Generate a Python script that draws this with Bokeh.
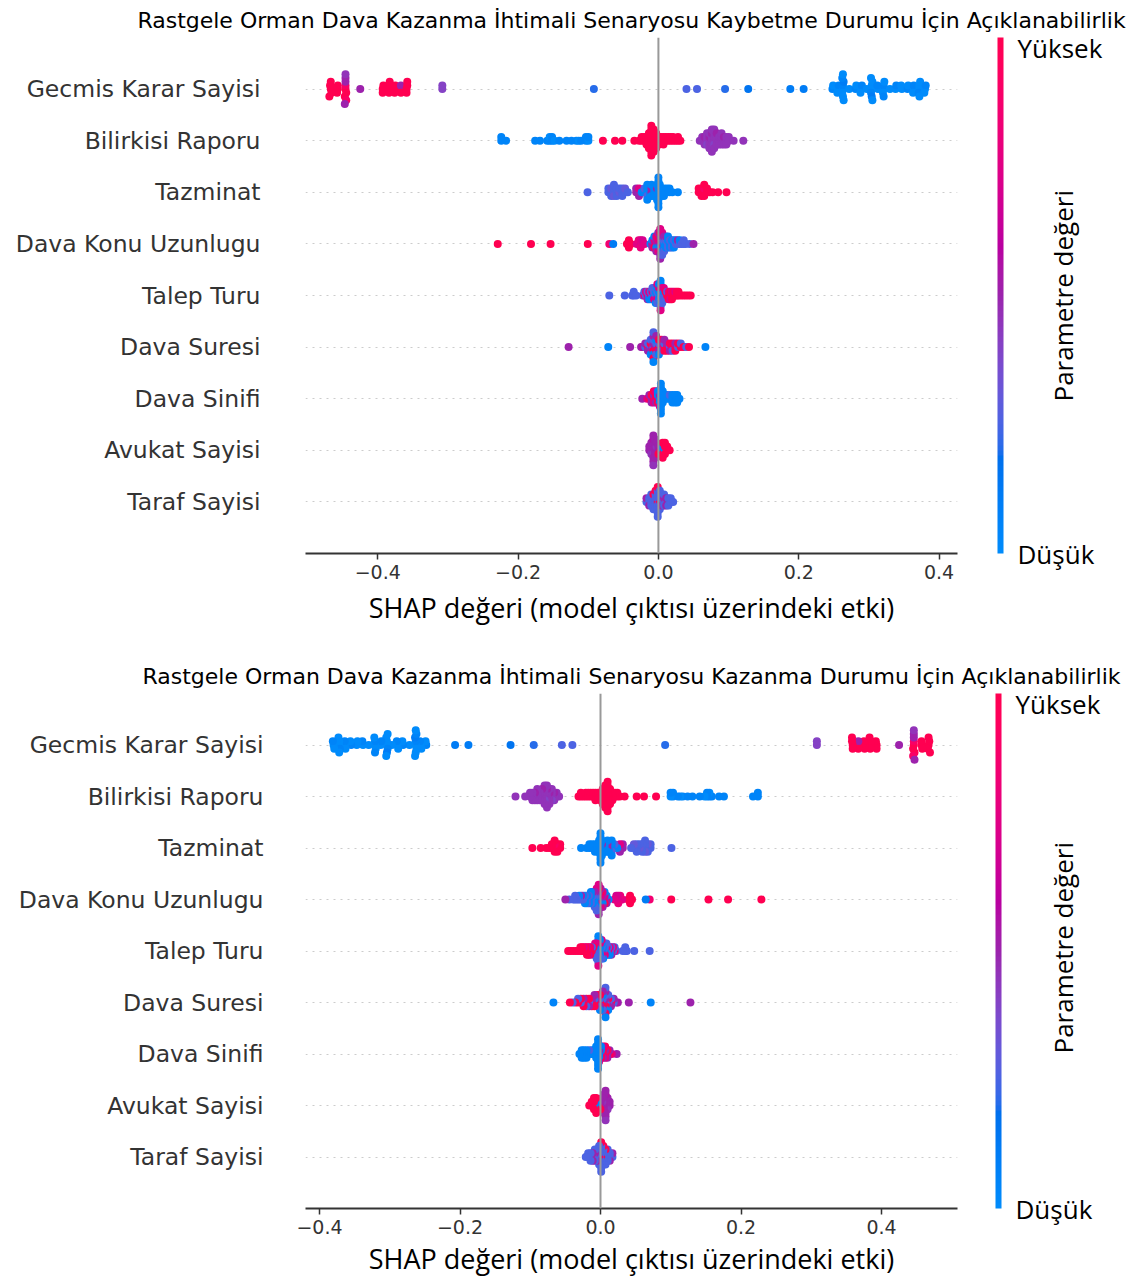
import math
import numpy as np
from bokeh.plotting import figure
from bokeh.models import (Range1d, FixedTicker, Span, ColorBar, LinearColorMapper,
                          LinearAxis, ColumnDataSource)
from bokeh.layouts import column
from bokeh.transform import linear_cmap
from bokeh.embed import file_html
from bokeh.resources import INLINE

# ---------------- texts ----------------
ozellikler = ["Gecmis Karar Sayisi", "Bilirkisi Raporu", "Tazminat", "Dava Konu Uzunlugu",
              "Talep Turu", "Dava Suresi", "Dava Sinifi", "Avukat Sayisi", "Taraf Sayisi"]
baslik_kaybetme = "Rastgele Orman Dava Kazanma İhtimali Senaryosu Kaybetme Durumu İçin Açıklanabilirlik"
baslik_kazanma = "Rastgele Orman Dava Kazanma İhtimali Senaryosu Kazanma Durumu İçin Açıklanabilirlik"
eksen_basligi = "SHAP değeri (model çıktısı üzerindeki etki)"
renk_basligi = "Parametre değeri"
renk_ust = "Yüksek"
renk_alt = "Düşük"
x_tikleri = [-0.4, -0.2, 0.0, 0.2, 0.4]
x_tik_etiketleri = ["−0.4", "−0.2", "0.0", "0.2", "0.4"]

# ---------------- data: feature values (0 = low, 1 = high) ----------------
deger_gecmis = [1.0,1.0,1.0,1.0,1.0, 1.0,1.0,1.0,
 1.0,0.9,1.0,0.5,1.0,0.5,0.9,0.45,0.5, 0.5,
 1.0,1.0,1.0, 1.0,1.0,1.0,1.0, 1.0,1.0,1.0, 1.0,0.5,1.0, 1.0,1.0,1.0,1.0,
 0.4,0.4, 0.2,0.25,0.25,0.2,0.15,0.1,0.1,
 0.05,0.0, 0.0,0.05,0.0, 0.0,0.05,0.0,0.1,0.0,0.05,0.0,0.0,
 0.0,0.05,0.0, 0.0,0.05,0.0, 0.0, 0.0,0.0,0.05,0.0,0.1,0.0,0.0,
 0.0,0.05, 0.0,0.05,0.0,0.0,0.05, 0.0,0.0,0.05,0.0,0.0,0.05,0.0,
 0.0,0.05,0.0, 0.0,0.0,0.05,0.0,0.0, 0.0,0.05,0.0]
deger_bilirkisi = [0.05,0.05,0.05,
 0.05,0.05,0.05,0.05,0.0,0.05,0.05,0.0,0.05,
 0.05,0.05,0.05,0.0,0.05,0.05,0.05,0.0,0.05,
 1.0,1.0,1.0,1.0,
 1.0, 1.0,1.0, 1.0,1.0, 1.0,1.0,1.0, 1.0,1.0,1.0,1.0,1.0,
 1.0,1.0,1.0,1.0,1.0,1.0,1.0,1.0,1.0, 1.0,1.0,1.0,1.0,1.0,1.0,1.0,
 1.0,1.0,1.0,1.0,1.0, 1.0,1.0,1.0, 1.0,1.0, 1.0,1.0,1.0, 1.0,1.0, 1.0,1.0,
 1.0,1.0, 1.0,1.0, 1.0, 1.0,1.0, 1.0,
 0.45, 0.45,0.45, 0.45,0.5,0.45, 0.45,0.45,0.4,0.45, 0.45,0.5,0.45,0.45,0.45,
 0.45,0.45,0.45,0.5,0.45,0.45,0.45, 0.45,0.45,0.4,0.45,0.45,0.45,
 0.45,0.45,0.45,0.5, 0.45,0.45,0.45, 0.45,0.45,0.45,0.45, 0.45,0.5,0.45,
 0.45,0.45,0.45, 0.45,0.45, 0.45, 0.45]
deger_tazminat = [0.25,
 0.25,0.25, 0.25,0.3,0.25, 0.25,0.25,0.3,0.25, 0.25,0.25,0.25, 0.3,0.25, 0.25,0.25,0.25, 0.25,0.3, 0.25,
 0.5,0.5, 0.5,0.75,0.5,
 0.05, 0.05,0.25, 0.05,0.05,0.25,0.05,0.05, 0.05,0.05,0.05, 0.5,0.5,0.05,0.05,
 0.05,0.05,0.05, 0.05,0.05, 0.05,0.5,0.05,0.05,0.05,
 0.05,0.05,0.05,0.05,0.05,0.05,0.05,0.05,0.05, 0.05,0.05,0.05,0.05,
 0.05,0.05,0.05, 0.05,0.05,0.05, 0.05,0.05, 0.05,0.05, 0.05,
 0.05,
 1.0,1.0, 1.0,1.0,1.0, 1.0,0.9,1.0,1.0, 1.0,1.0, 1.0,1.0,1.0,1.0]
deger_dava_konu = [1.0,1.0,1.0,1.0,
 0.85,0.1,
 1.0,1.0,1.0,1.0,1.0,
 0.75,0.75,0.8,0.7,0.75,0.8,0.75,0.7,0.75,
 0.05,
 0.75,0.05,0.5,
 0.5,0.75,1.0,0.05,
 0.75,0.5,0.05,0.75,0.5,
 0.5,0.75,0.05,1.0,0.75,0.5,
 0.5,0.75,0.05,0.5,0.75,1.0,0.5,0.75,0.5,
 0.05,0.25,0.75,0.5,0.05,0.75,0.25,
 0.05,0.25,0.05,0.5,0.25,
 0.05,0.25,0.05,0.5,
 0.25,0.05,0.25,0.05,
 0.05,0.25,0.05,
 0.25,0.05,0.25,
 0.05,0.25,0.05,
 0.25,0.05, 0.25,0.5, 0.25,0.05, 0.25, 0.25,0.25, 0.25,0.25,0.5]
deger_talep = [0.25,0.25,0.25,0.25,0.25,0.25,
 0.25, 0.75,0.25, 0.25,0.75, 0.75,0.25,0.5, 0.25,0.75,0.05, 0.75,0.25,0.05,
 0.25,0.75,0.05,0.25, 0.05,0.25,0.75,0.25, 0.25,0.05,0.75,0.25,0.05,
 0.05,0.25,0.75,0.05,0.25,0.75, 0.25,0.05,0.05,0.75,0.25,0.05,
 0.05,0.05,0.25,0.75,0.05,0.05,0.25,0.05,0.75,
 0.05,0.25,0.05,0.75,0.25, 0.25,0.05,0.25,0.75, 0.25,1.0,0.25, 1.0,0.25,
 1.0,0.75,1.0, 1.0,1.0,0.75, 1.0,0.75,1.0, 1.0,1.0, 1.0,0.75, 1.0,1.0, 1.0,1.0,
 1.0,1.0,1.0,1.0,1.0]
deger_dava_suresi = [0.5,0.05,0.5,0.5,0.55,
 0.25,0.5, 1.0,0.25,0.5, 0.25,1.0,0.5,0.25,0.05,
 0.25,0.5,1.0,0.25,0.05,0.5,1.0,0.25,0.05,
 0.5,0.25,1.0,0.05,0.25,0.5, 1.0,0.25,0.5,1.0,0.05, 1.0,0.5,0.25,1.0, 1.0,0.25,1.0,0.5,
 1.0,0.5,1.0, 0.25,1.0,0.5, 1.0,1.0,0.25, 1.0,0.5,1.0, 0.25,1.0, 1.0,0.25,
 1.0,0.25,1.0, 0.05]
deger_dava_sinifi = [0.5,0.75, 1.0,0.5, 0.5,1.0,0.5, 1.0,0.5,0.75,1.0, 1.0,1.0,0.5,0.75,
 0.75,0.05,1.0,0.05, 0.05,0.5,0.05,0.05,0.75,
 0.05,0.05,0.05,0.05,0.05,0.05,0.05,0.05,0.05, 0.05,0.05,0.05,0.05,
 0.05,0.05, 0.05,0.05, 0.05,0.25, 0.05,0.05,0.05, 0.05,0.05,0.05, 0.05,0.05,0.05, 0.05]
deger_avukat = [0.5,0.5, 0.5,0.5,0.45,0.5,
 0.5,0.5,0.45,0.5,0.5,0.55,0.5,0.5,0.45,
 0.5,0.5,0.5,0.5,0.5,0.5, 0.5,0.45,0.5,0.5, 0.5,0.5,1.0, 1.0,0.5,
 0.05,0.05,1.0,1.0,1.0, 0.05,1.0,1.0,1.0, 1.0,1.0, 1.0]
deger_taraf = [0.25,0.5, 0.25,0.25,0.5, 0.25,0.25,0.25,0.25, 0.25,0.25,0.25,1.0,0.25,
 0.25,0.25,0.25,0.25,0.25,1.0, 1.0,0.25,0.25,0.25,0.25,0.25,0.25,1.0,0.25,
 1.0,0.25,0.25,0.25,0.25,0.25, 0.25,0.25,0.5,0.25, 0.25,0.5,0.25,0.25, 0.25,0.5,0.5,
 0.5,0.25,0.25, 0.25,0.25, 0.25]

# ---------------- data: SHAP values, "Kaybetme" panel ----------------
kaybetme_gecmis = [-0.467,-0.468,-0.466,-0.467,-0.469, -0.457,-0.457,-0.458,
 -0.446,-0.446,-0.445,-0.446,-0.447,-0.446,-0.445,-0.446,-0.447, -0.425,
 -0.393,-0.392,-0.393, -0.384,-0.385,-0.384,-0.383, -0.376,-0.375,-0.376,
 -0.367,-0.367,-0.367, -0.359,-0.358,-0.359,-0.358,
 -0.308,-0.308, -0.092,0.040,0.055,0.095,0.128,0.188,0.207,
 0.248,0.249, 0.256,0.257,0.255, 0.263,0.263,0.262,0.264,0.263,0.262,0.264,0.263,
 0.272,0.281,0.282, 0.289,0.290,0.288, 0.297, 0.304,0.304,0.303,0.305,0.304,0.303,0.305,
 0.313,0.312, 0.321,0.321,0.320,0.322,0.321, 0.330,0.338,0.339,0.347,0.346,0.355,0.356,
 0.364,0.364,0.363, 0.372,0.372,0.371,0.373,0.372, 0.380,0.381,0.379]
kaybetme_bilirkisi = [-0.2240,-0.2240,-0.2171,
 -0.1757,-0.1688,-0.1585,-0.1550,-0.1550,-0.1516,-0.1516,-0.1481,-0.1412,
 -0.1309,-0.1240,-0.1171,-0.1136,-0.1102,-0.1033,-0.1033,-0.0998,-0.0998,
 -0.0791,-0.0619,-0.0515,-0.0343,
 -0.0274, -0.0239,-0.0239, -0.0205,-0.0205, -0.0170,-0.0170,-0.0170,
 -0.0136,-0.0136,-0.0136,-0.0136,-0.0136,
 -0.0101,-0.0101,-0.0101,-0.0101,-0.0101,-0.0101,-0.0101,-0.0101,-0.0101,
 -0.0067,-0.0067,-0.0067,-0.0067,-0.0067,-0.0067,-0.0067,
 -0.0032,-0.0032,-0.0032,-0.0032,-0.0032, 0.0003,0.0003,0.0003, 0.0037,0.0037,
 0.0072,0.0072,0.0072, 0.0106,0.0106, 0.0141,0.0141, 0.0175,0.0175, 0.0210,0.0210,
 0.0244, 0.0279,0.0279, 0.0313,
 0.0589, 0.0624,0.0624, 0.0658,0.0658,0.0658, 0.0693,0.0693,0.0693,0.0693,
 0.0727,0.0727,0.0727,0.0727,0.0727, 0.0762,0.0762,0.0762,0.0762,0.0762,0.0762,0.0762,
 0.0796,0.0796,0.0796,0.0796,0.0796,0.0796, 0.0831,0.0831,0.0831,0.0831,
 0.0865,0.0865,0.0865, 0.0900,0.0900,0.0900,0.0900, 0.0934,0.0934,0.0934,
 0.0969,0.0969,0.0969, 0.1003,0.1003, 0.1072, 0.1210]
kaybetme_tazminat = [-0.1010,
 -0.0713,-0.0713, -0.0673,-0.0673,-0.0673, -0.0634,-0.0634,-0.0634,-0.0634,
 -0.0594,-0.0594,-0.0594, -0.0555,-0.0555, -0.0515,-0.0515,-0.0515, -0.0475,-0.0475, -0.0436,
 -0.0317,-0.0317, -0.0277,-0.0277,-0.0277,
 -0.0238, -0.0198,-0.0198, -0.0159,-0.0159,-0.0159,-0.0159,-0.0159, -0.0119,-0.0119,-0.0119,
 -0.0099,-0.0099,-0.0099,-0.0099, -0.0060,-0.0060,-0.0060, -0.0040,-0.0040,
 -0.0020,-0.0020,-0.0020,-0.0020,-0.0020,
 0.0000,0.0000,0.0000,0.0000,0.0000,0.0000,0.0000,0.0000,0.0000, 0.0020,0.0020,0.0020,0.0020,
 0.0039,0.0039,0.0039, 0.0079,0.0079,0.0079, 0.0119,0.0119, 0.0158,0.0158, 0.0198,
 0.0277,
 0.0574,0.0574, 0.0614,0.0614,0.0614, 0.0653,0.0653,0.0653,0.0653, 0.0693,0.0693,
 0.0732, 0.0772, 0.0851, 0.0970]
kaybetme_dava_konu = [-0.2290,-0.1816,-0.1537,-0.1007,
 -0.0700,-0.0644,
 -0.0449,-0.0421,-0.0421,-0.0421,-0.0393,
 -0.0309,-0.0281,-0.0281,-0.0253,-0.0253,-0.0253,-0.0225,-0.0225,-0.0198,
 -0.0114,
 -0.0086,-0.0086,-0.0086,
 -0.0058,-0.0058,-0.0058,-0.0058,
 -0.0030,-0.0030,-0.0030,-0.0030,-0.0030,
 -0.0002,-0.0002,-0.0002,-0.0002,-0.0002,-0.0002,
 0.0026,0.0026,0.0026,0.0026,0.0026,0.0026,0.0026,0.0026,0.0026,
 0.0054,0.0054,0.0054,0.0054,0.0054,0.0054,0.0054,
 0.0082,0.0082,0.0082,0.0082,0.0082,
 0.0109,0.0109,0.0109,0.0109,
 0.0137,0.0137,0.0137,0.0137,
 0.0165,0.0165,0.0165,
 0.0193,0.0193,0.0193,
 0.0221,0.0221,0.0221,
 0.0249,0.0249, 0.0277,0.0277, 0.0305,0.0305, 0.0333, 0.0361,0.0361,
 0.0388, 0.0444, 0.0500]
kaybetme_talep = [-0.0700,-0.0480,-0.0375,-0.0352,-0.0352,-0.0317,
 -0.0224, -0.0201,-0.0201, -0.0178,-0.0178, -0.0155,-0.0155,-0.0155,
 -0.0132,-0.0132,-0.0132, -0.0108,-0.0108,-0.0108,
 -0.0085,-0.0085,-0.0085,-0.0085, -0.0062,-0.0062,-0.0062,-0.0062,
 -0.0039,-0.0039,-0.0039,-0.0039,-0.0039,
 -0.0016,-0.0016,-0.0016,-0.0016,-0.0016,-0.0016,
 0.0008,0.0008,0.0008,0.0008,0.0008,0.0008,
 0.0031,0.0031,0.0031,0.0031,0.0031,0.0031,0.0031,0.0031,0.0031,
 0.0054,0.0054,0.0054,0.0054,0.0054, 0.0077,0.0077,0.0077,0.0077,
 0.0100,0.0100,0.0100, 0.0124,0.0124,
 0.0147,0.0147,0.0147, 0.0170,0.0170,0.0170, 0.0193,0.0193,0.0193,
 0.0216,0.0216, 0.0240,0.0240, 0.0263,0.0263, 0.0286,0.0286,
 0.0321, 0.0356, 0.0390, 0.0425, 0.0460]
kaybetme_dava_suresi = [-0.1280,-0.0715,-0.0403,-0.0247,-0.0227,
 -0.0188,-0.0188, -0.0149,-0.0149,-0.0149, -0.0110,-0.0110,-0.0110,-0.0110,-0.0110,
 -0.0071,-0.0071,-0.0071,-0.0071,-0.0071,-0.0071,-0.0071,-0.0071,-0.0071,
 -0.0032,-0.0032,-0.0032,-0.0032,-0.0032,-0.0032,
 0.0007,0.0007,0.0007,0.0007,0.0007, 0.0046,0.0046,0.0046,0.0046,
 0.0085,0.0085,0.0085,0.0085,
 0.0124,0.0124,0.0124, 0.0163,0.0163,0.0163, 0.0202,0.0202,0.0202, 0.0241,0.0241,0.0241,
 0.0280,0.0280, 0.0319,0.0319,
 0.0358, 0.0397, 0.0436,
 0.0670]
kaybetme_dava_sinifi = [-0.0230,-0.0161, -0.0129,-0.0129, -0.0098,-0.0098,-0.0098,
 -0.0066,-0.0066,-0.0066,-0.0066, -0.0034,-0.0034,-0.0034,-0.0034,
 -0.0007,-0.0007,-0.0007,-0.0007, 0.0019,0.0019,0.0019,0.0019,0.0019,
 0.0035,0.0035,0.0035,0.0035,0.0035,0.0035,0.0035,0.0035,0.0035,
 0.0062,0.0062,0.0062,0.0062, 0.0093,0.0093, 0.0125,0.0125, 0.0162,0.0162,
 0.0199,0.0199,0.0199, 0.0236,0.0236,0.0236, 0.0268,0.0268,0.0268, 0.0300]
kaybetme_avukat = [-0.0130,-0.0130, -0.0101,-0.0101,-0.0101,-0.0101,
 -0.0072,-0.0072,-0.0072,-0.0072,-0.0072,-0.0072,-0.0072,-0.0072,-0.0072,
 -0.0049,-0.0049,-0.0049,-0.0049,-0.0049,-0.0049, -0.0026,-0.0026,-0.0026,-0.0026,
 0.0001,0.0001,0.0001, 0.0030,0.0030,
 0.0061,0.0061,0.0061,0.0061,0.0061, 0.0093,0.0093,0.0093,0.0093, 0.0125,0.0125, 0.0160]
kaybetme_taraf = [-0.0170,-0.0170, -0.0132,-0.0132,-0.0132, -0.0102,-0.0102,-0.0102,-0.0102,
 -0.0071,-0.0071,-0.0071,-0.0071,-0.0071, -0.0041,-0.0041,-0.0041,-0.0041,-0.0041,-0.0041,
 -0.0010,-0.0010,-0.0010,-0.0010,-0.0010,-0.0010,-0.0010,-0.0010,-0.0010,
 0.0020,0.0020,0.0020,0.0020,0.0020,0.0020, 0.0050,0.0050,0.0050,0.0050,
 0.0081,0.0081,0.0081,0.0081, 0.0111,0.0111,0.0111, 0.0142,0.0142,0.0142,
 0.0176,0.0176, 0.0210]

# ---------------- data: SHAP values, "Kazanma" panel ----------------
kazanma_gecmis = [0.467,0.468,0.466,0.467,0.469, 0.457,0.457,0.458,
 0.446,0.446,0.445,0.446,0.447,0.446,0.445,0.446,0.447, 0.425,
 0.393,0.392,0.393, 0.384,0.385,0.384,0.383, 0.376,0.375,0.376,
 0.367,0.367,0.367, 0.359,0.358,0.359,0.358,
 0.308,0.308, 0.092,-0.040,-0.055,-0.095,-0.128,-0.188,-0.207,
 -0.248,-0.249, -0.256,-0.257,-0.255, -0.263,-0.263,-0.262,-0.264,-0.263,-0.262,-0.264,-0.263,
 -0.272,-0.281,-0.282, -0.289,-0.290,-0.288, -0.297, -0.304,-0.304,-0.303,-0.305,-0.304,-0.303,-0.305,
 -0.313,-0.312, -0.321,-0.321,-0.320,-0.322,-0.321, -0.330,-0.338,-0.339,-0.347,-0.346,-0.355,-0.356,
 -0.364,-0.364,-0.363, -0.372,-0.372,-0.371,-0.373,-0.372, -0.380,-0.381,-0.379]
kazanma_bilirkisi = [0.2240,0.2240,0.2171,
 0.1757,0.1688,0.1585,0.1550,0.1550,0.1516,0.1516,0.1481,0.1412,
 0.1309,0.1240,0.1171,0.1136,0.1102,0.1033,0.1033,0.0998,0.0998,
 0.0791,0.0619,0.0515,0.0343,
 0.0274, 0.0239,0.0239, 0.0205,0.0205, 0.0170,0.0170,0.0170,
 0.0136,0.0136,0.0136,0.0136,0.0136,
 0.0101,0.0101,0.0101,0.0101,0.0101,0.0101,0.0101,0.0101,0.0101,
 0.0067,0.0067,0.0067,0.0067,0.0067,0.0067,0.0067,
 0.0032,0.0032,0.0032,0.0032,0.0032, -0.0003,-0.0003,-0.0003, -0.0037,-0.0037,
 -0.0072,-0.0072,-0.0072, -0.0106,-0.0106, -0.0141,-0.0141, -0.0175,-0.0175, -0.0210,-0.0210,
 -0.0244, -0.0279,-0.0279, -0.0313,
 -0.0589, -0.0624,-0.0624, -0.0658,-0.0658,-0.0658, -0.0693,-0.0693,-0.0693,-0.0693,
 -0.0727,-0.0727,-0.0727,-0.0727,-0.0727, -0.0762,-0.0762,-0.0762,-0.0762,-0.0762,-0.0762,-0.0762,
 -0.0796,-0.0796,-0.0796,-0.0796,-0.0796,-0.0796, -0.0831,-0.0831,-0.0831,-0.0831,
 -0.0865,-0.0865,-0.0865, -0.0900,-0.0900,-0.0900,-0.0900, -0.0934,-0.0934,-0.0934,
 -0.0969,-0.0969,-0.0969, -0.1003,-0.1003, -0.1072, -0.1210]
kazanma_tazminat = [0.1010,
 0.0713,0.0713, 0.0673,0.0673,0.0673, 0.0634,0.0634,0.0634,0.0634,
 0.0594,0.0594,0.0594, 0.0555,0.0555, 0.0515,0.0515,0.0515, 0.0475,0.0475, 0.0436,
 0.0317,0.0317, 0.0277,0.0277,0.0277,
 0.0238, 0.0198,0.0198, 0.0159,0.0159,0.0159,0.0159,0.0159, 0.0119,0.0119,0.0119,
 0.0099,0.0099,0.0099,0.0099, 0.0060,0.0060,0.0060, 0.0040,0.0040,
 0.0020,0.0020,0.0020,0.0020,0.0020,
 0.0000,0.0000,0.0000,0.0000,0.0000,0.0000,0.0000,0.0000,0.0000, -0.0020,-0.0020,-0.0020,-0.0020,
 -0.0039,-0.0039,-0.0039, -0.0079,-0.0079,-0.0079, -0.0119,-0.0119, -0.0158,-0.0158, -0.0198,
 -0.0277,
 -0.0574,-0.0574, -0.0614,-0.0614,-0.0614, -0.0653,-0.0653,-0.0653,-0.0653, -0.0693,-0.0693,
 -0.0732, -0.0772, -0.0851, -0.0970]
kazanma_dava_konu = [0.2290,0.1816,0.1537,0.1007,
 0.0700,0.0644,
 0.0449,0.0421,0.0421,0.0421,0.0393,
 0.0309,0.0281,0.0281,0.0253,0.0253,0.0253,0.0225,0.0225,0.0198,
 0.0114,
 0.0086,0.0086,0.0086,
 0.0058,0.0058,0.0058,0.0058,
 0.0030,0.0030,0.0030,0.0030,0.0030,
 0.0002,0.0002,0.0002,0.0002,0.0002,0.0002,
 -0.0026,-0.0026,-0.0026,-0.0026,-0.0026,-0.0026,-0.0026,-0.0026,-0.0026,
 -0.0054,-0.0054,-0.0054,-0.0054,-0.0054,-0.0054,-0.0054,
 -0.0082,-0.0082,-0.0082,-0.0082,-0.0082,
 -0.0109,-0.0109,-0.0109,-0.0109,
 -0.0137,-0.0137,-0.0137,-0.0137,
 -0.0165,-0.0165,-0.0165,
 -0.0193,-0.0193,-0.0193,
 -0.0221,-0.0221,-0.0221,
 -0.0249,-0.0249, -0.0277,-0.0277, -0.0305,-0.0305, -0.0333, -0.0361,-0.0361,
 -0.0388, -0.0444, -0.0500]
kazanma_talep = [0.0700,0.0480,0.0375,0.0352,0.0352,0.0317,
 0.0224, 0.0201,0.0201, 0.0178,0.0178, 0.0155,0.0155,0.0155,
 0.0132,0.0132,0.0132, 0.0108,0.0108,0.0108,
 0.0085,0.0085,0.0085,0.0085, 0.0062,0.0062,0.0062,0.0062,
 0.0039,0.0039,0.0039,0.0039,0.0039,
 0.0016,0.0016,0.0016,0.0016,0.0016,0.0016,
 -0.0008,-0.0008,-0.0008,-0.0008,-0.0008,-0.0008,
 -0.0031,-0.0031,-0.0031,-0.0031,-0.0031,-0.0031,-0.0031,-0.0031,-0.0031,
 -0.0054,-0.0054,-0.0054,-0.0054,-0.0054, -0.0077,-0.0077,-0.0077,-0.0077,
 -0.0100,-0.0100,-0.0100, -0.0124,-0.0124,
 -0.0147,-0.0147,-0.0147, -0.0170,-0.0170,-0.0170, -0.0193,-0.0193,-0.0193,
 -0.0216,-0.0216, -0.0240,-0.0240, -0.0263,-0.0263, -0.0286,-0.0286,
 -0.0321, -0.0356, -0.0390, -0.0425, -0.0460]
kazanma_dava_suresi = [0.1280,0.0715,0.0403,0.0247,0.0227,
 0.0188,0.0188, 0.0149,0.0149,0.0149, 0.0110,0.0110,0.0110,0.0110,0.0110,
 0.0071,0.0071,0.0071,0.0071,0.0071,0.0071,0.0071,0.0071,0.0071,
 0.0032,0.0032,0.0032,0.0032,0.0032,0.0032,
 -0.0007,-0.0007,-0.0007,-0.0007,-0.0007, -0.0046,-0.0046,-0.0046,-0.0046,
 -0.0085,-0.0085,-0.0085,-0.0085,
 -0.0124,-0.0124,-0.0124, -0.0163,-0.0163,-0.0163, -0.0202,-0.0202,-0.0202, -0.0241,-0.0241,-0.0241,
 -0.0280,-0.0280, -0.0319,-0.0319,
 -0.0358, -0.0397, -0.0436,
 -0.0670]
kazanma_dava_sinifi = [0.0230,0.0161, 0.0129,0.0129, 0.0098,0.0098,0.0098,
 0.0066,0.0066,0.0066,0.0066, 0.0034,0.0034,0.0034,0.0034,
 0.0007,0.0007,0.0007,0.0007, -0.0019,-0.0019,-0.0019,-0.0019,-0.0019,
 -0.0035,-0.0035,-0.0035,-0.0035,-0.0035,-0.0035,-0.0035,-0.0035,-0.0035,
 -0.0062,-0.0062,-0.0062,-0.0062, -0.0093,-0.0093, -0.0125,-0.0125, -0.0162,-0.0162,
 -0.0199,-0.0199,-0.0199, -0.0236,-0.0236,-0.0236, -0.0268,-0.0268,-0.0268, -0.0300]
kazanma_avukat = [0.0130,0.0130, 0.0101,0.0101,0.0101,0.0101,
 0.0072,0.0072,0.0072,0.0072,0.0072,0.0072,0.0072,0.0072,0.0072,
 0.0049,0.0049,0.0049,0.0049,0.0049,0.0049, 0.0026,0.0026,0.0026,0.0026,
 -0.0001,-0.0001,-0.0001, -0.0030,-0.0030,
 -0.0061,-0.0061,-0.0061,-0.0061,-0.0061, -0.0093,-0.0093,-0.0093,-0.0093, -0.0125,-0.0125, -0.0160]
kazanma_taraf = [0.0170,0.0170, 0.0132,0.0132,0.0132, 0.0102,0.0102,0.0102,0.0102,
 0.0071,0.0071,0.0071,0.0071,0.0071, 0.0041,0.0041,0.0041,0.0041,0.0041,0.0041,
 0.0010,0.0010,0.0010,0.0010,0.0010,0.0010,0.0010,0.0010,0.0010,
 -0.0020,-0.0020,-0.0020,-0.0020,-0.0020,-0.0020, -0.0050,-0.0050,-0.0050,-0.0050,
 -0.0081,-0.0081,-0.0081,-0.0081, -0.0111,-0.0111,-0.0111, -0.0142,-0.0142,-0.0142,
 -0.0176,-0.0176, -0.0210]

degerler = [deger_gecmis, deger_bilirkisi, deger_tazminat, deger_dava_konu, deger_talep,
            deger_dava_suresi, deger_dava_sinifi, deger_avukat, deger_taraf]
kaybetme = [kaybetme_gecmis, kaybetme_bilirkisi, kaybetme_tazminat, kaybetme_dava_konu,
            kaybetme_talep, kaybetme_dava_suresi, kaybetme_dava_sinifi, kaybetme_avukat, kaybetme_taraf]
kazanma = [kazanma_gecmis, kazanma_bilirkisi, kazanma_tazminat, kazanma_dava_konu,
           kazanma_talep, kazanma_dava_suresi, kazanma_dava_sinifi, kazanma_avukat, kazanma_taraf]


# ---------------- colour map (SHAP red_blue, built in LCh space) ----------------
def shap_red_blue(n=100):
    blue = (54.0, 70.0, 4.6588)
    red = (54.0, 90.0, 0.35470565 + 2 * math.pi)
    l_mid = 40.0
    half = n // 2
    ls = list(np.linspace(blue[0], l_mid, half)) + list(np.linspace(l_mid, red[0], n - half))
    cs = np.linspace(blue[1], red[1], n)
    hs = np.linspace(blue[2], red[2], n)

    def finv(t):
        return t ** 3 if t > 6 / 29 else 3 * (6 / 29) ** 2 * (t - 4 / 29)

    def gam(u):
        u = min(max(u, 0.0), 1.0)
        return 1.055 * u ** (1 / 2.4) - 0.055 if u > 0.0031308 else 12.92 * u

    out = []
    for L, C, H in zip(ls, cs, hs):
        a, b = C * math.cos(H), C * math.sin(H)
        fy = (L + 16) / 116
        fx, fz = fy + a / 500, fy - b / 200
        X, Y, Z = 0.95047 * finv(fx), finv(fy), 1.08883 * finv(fz)
        r = 3.2406 * X - 1.5372 * Y - 0.4986 * Z
        g = -0.9689 * X + 1.8758 * Y + 0.0415 * Z
        bb = 0.0557 * X - 0.2040 * Y + 1.0570 * Z
        out.append("#%02x%02x%02x" % tuple(int(round(255 * gam(v))) for v in (r, g, bb)))
    return out


PALET = shap_red_blue(100)


def kovan_yerlesimi(vals, row_height=0.4, nbins=100):
    v = np.asarray(vals, dtype=float)
    quant = np.round(nbins * (v - v.min()) / (v.max() - v.min() + 1e-8))
    order = np.argsort(quant, kind="stable")
    ys = np.zeros(len(v))
    layer, last = 0, None
    for i in order:
        if quant[i] != last:
            layer = 0
        ys[i] = math.ceil(layer / 2) * ((layer % 2) * 2 - 1)
        layer += 1
        last = quant[i]
    ys *= 0.9 * (row_height / np.max(ys + 1))
    return ys


W = 1133


def panel(title, shap_rows, g):
    zero, ppu = g["zero"], g["ppu"]
    ftop, fbot = g["ftop"], g["fbot"]

    def xd(px):
        return (px - zero) / ppu

    def yd(py):
        return 9 - (py - ftop) / (fbot - ftop) * 10

    p = figure(width=W, height=g["height"],
               x_range=Range1d(xd(g["fleft"]), xd(g["fright"])), y_range=Range1d(-1, 9),
               toolbar_location=None, output_backend="svg",
               min_border_left=g["fleft"], min_border_right=W - g["fright"],
               min_border_top=ftop - g["ptop"], min_border_bottom=g["ptop"] + g["height"] - fbot,
               outline_line_color=None, background_fill_color="white", border_fill_color="white")
    p.title.text = title
    p.title.align = "center"
    p.title.text_font = "DejaVu Sans"
    p.title.text_font_size = "22px"
    p.title.text_font_style = "normal"
    p.title.text_color = "black"
    p.title.standoff = g["title_standoff"]

    n = len(ozellikler)
    p.xgrid.visible = False
    p.ygrid.ticker = FixedTicker(ticks=list(range(n)))
    p.ygrid.grid_line_color = "#cccccc"
    p.ygrid.grid_line_dash = "2 5"
    p.ygrid.grid_line_width = 1

    p.yaxis.ticker = FixedTicker(ticks=list(range(n)))
    p.yaxis.major_label_overrides = {n - 1 - i: nm for i, nm in enumerate(ozellikler)}
    p.yaxis.axis_line_color = None
    p.yaxis.major_tick_line_color = None
    p.yaxis.minor_tick_line_color = None
    p.yaxis.major_tick_out = 0
    p.yaxis.major_tick_in = 0
    p.yaxis.major_label_standoff = g["fleft"] - g["lab_right"]
    p.yaxis.major_label_text_font = "DejaVu Sans"
    p.yaxis.major_label_text_font_size = "23.5px"
    p.yaxis.major_label_text_color = "#333333"

    p.xaxis.ticker = FixedTicker(ticks=x_tikleri)
    p.xaxis.major_label_overrides = dict(zip(x_tikleri, x_tik_etiketleri))
    p.xaxis.axis_line_color = "#333333"
    p.xaxis.axis_line_width = 2
    p.xaxis.major_tick_line_color = "#333333"
    p.xaxis.major_tick_line_width = 1.5
    p.xaxis.major_tick_out = 6
    p.xaxis.major_tick_in = 0
    p.xaxis.minor_tick_line_color = None
    p.xaxis.major_label_standoff = 5
    p.xaxis.major_label_text_font = "DejaVu Sans"
    p.xaxis.major_label_text_font_size = "19px"
    p.xaxis.major_label_text_color = "#333333"
    p.xaxis.axis_label = eksen_basligi
    p.xaxis.axis_label_standoff = g["xlab_standoff"]
    p.xaxis.axis_label_text_font = "Open Sans"
    p.xaxis.axis_label_text_font_size = "27px"
    p.xaxis.axis_label_text_font_style = "normal"
    p.xaxis.axis_label_text_color = "black"

    for i, (xs, cs) in enumerate(zip(shap_rows, degerler)):
        m = min(len(xs), len(cs))
        xs, cs = list(xs[:m]), list(cs[:m])
        ys = (n - 1 - i) + kovan_yerlesimi(xs)
        src = ColumnDataSource(dict(x=xs, y=list(ys), c=cs))
        p.scatter("x", "y", source=src, size=8, line_color=None,
                  fill_color=linear_cmap("c", PALET, 0, 1))

    p.add_layout(Span(location=0, dimension="height", line_color="#999999", line_width=2))

    mapper = LinearColorMapper(palette=PALET, low=0, high=1)
    cb = ColorBar(color_mapper=mapper, location=(g["cb_left"] - g["fleft"], 0),
                  width=6, height=fbot - ftop, padding=0, margin=0,
                  ticker=FixedTicker(ticks=[0, 0.98]),
                  major_label_overrides={0: renk_alt, 0.98: renk_ust},
                  major_tick_line_color=None, bar_line_color=None,
                  major_label_text_font="Open Sans", major_label_text_font_size="26px",
                  major_label_text_color="black", label_standoff=14,
                  background_fill_alpha=0, border_line_color=None)
    p.add_layout(cb)

    # rotated colour-bar title on the right, reading upwards (a single rotated tick label)
    y_bas = yd(g["plab_start"])
    sag = LinearAxis(ticker=FixedTicker(ticks=[y_bas]),
                     major_label_overrides={y_bas: renk_basligi},
                     major_label_orientation=math.pi / 2,
                     major_label_standoff=g["plab_standoff"],
                     axis_line_color=None, major_tick_line_color=None,
                     minor_tick_line_color=None, major_tick_out=0, major_tick_in=0,
                     major_label_text_font="Open Sans", major_label_text_font_size="26px",
                     major_label_text_color="black")
    p.add_layout(sag, "right")
    return p


geo_kaybetme = dict(ptop=0, height=636, zero=657, ppu=703.75, ftop=37, fbot=553,
                    fleft=303, fright=957, lab_right=258, cb_left=995,
                    title_standoff=10, xlab_standoff=7, plab_standoff=105, plab_start=401)
geo_kazanma = dict(ptop=636, height=643, zero=600, ppu=702.5, ftop=693, fbot=1208,
                   fleft=305, fright=957, lab_right=263, cb_left=995,
                   title_standoff=9, xlab_standoff=3, plab_standoff=105, plab_start=1053)

p1 = panel(baslik_kaybetme, kaybetme, geo_kaybetme)
p2 = panel(baslik_kazanma, kazanma, geo_kazanma)

layout = column(p1, p2, spacing=0)
with open("out.html", "w", encoding="utf-8") as f:
    f.write(file_html(layout, INLINE, title="SHAP"))
